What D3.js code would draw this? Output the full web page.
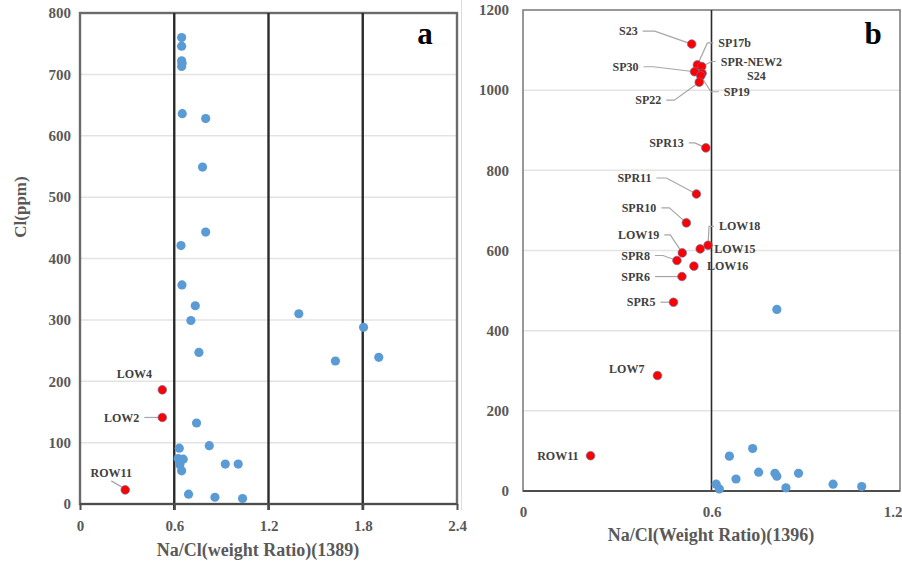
<!DOCTYPE html>
<html>
<head>
<meta charset="utf-8">
<script src="https://cdn.jsdelivr.net/npm/d3@7"></script>
<style>
  body { margin: 0; background: #fff; }
  svg text { font-family: 'Liberation Serif', 'Times New Roman', serif; font-weight: bold; }
</style>
</head>
<body>
<svg id="chart"></svg>
<script>
// panel a (1389) values
let aTicksX = [0, 0.6, 1.2, 1.8, 2.4];
let aTicksY = [0, 100, 200, 300, 400, 500, 600, 700, 800];
let aBlueX = [0.647, 0.647, 0.647, 0.650, 0.647, 0.651, 0.80, 0.78, 0.80, 0.643, 0.649, 0.734, 0.706, 1.393, 1.805,
              0.757, 1.626, 1.902, 0.742, 0.632, 0.823, 0.625, 0.657, 0.636, 0.647, 0.925, 1.007, 0.691, 0.859, 1.035];
let aBlueY = [760, 746, 722, 718, 713, 636, 628, 549, 443, 421, 357, 323, 299, 310, 288,
              247, 233, 239, 132, 91, 95, 74, 73, 64, 54, 65, 65, 16, 11, 9];
let aRedNames = ['LOW4', 'LOW2', 'ROW11'];
let aRedX = [0.524, 0.524, 0.288];
let aRedY = [186, 141, 23];

// panel b (1396)
let bTicksX = [0, 0.6, 1.2];
let bTicksY = [0, 200, 400, 600, 800, 1000, 1200];
let bBlueX = [0.808, 0.657, 0.731, 0.678, 0.750, 0.802, 0.808, 0.877, 0.837, 0.987, 1.078, 0.615, 0.625];
let bBlueY = [453, 87, 106, 30, 47, 44, 37, 44, 8, 17, 11, 17, 5];
let bRedNames = ['S23', 'SP17b', 'SPR-NEW2', 'SP30', 'S24', 'SP19', 'SP22', 'SPR13', 'SPR11', 'SPR10',
                 'LOW18', 'LOW19', 'LOW15', 'SPR8', 'LOW16', 'SPR6', 'SPR5', 'LOW7', 'ROW11'];
let bRedX = [0.537, 0.555, 0.569, 0.546, 0.570, 0.566, 0.561, 0.582, 0.552, 0.520,
             0.589, 0.507, 0.564, 0.490, 0.544, 0.506, 0.479, 0.428, 0.215];
let bRedY = [1115, 1063, 1059, 1046, 1042, 1036, 1020, 856, 741, 669,
             613, 594, 604, 575, 561, 535, 471, 288, 88];

// label placement (pixel offsets from the point), kept apart from the data
let aLabelPos = {
  'LOW4': [-28, -16, 'middle', 0],
  'LOW2': [-23, 0, 'end', 6],
  'ROW11': [-14, -17, 'middle', 1]
};
let bLabelPos = {
  'S23': [-54, -13, 'end', 12],
  'SP17b': [21, -22, 'start', 6],
  'SPR-NEW2': [19, -5, 'start', 4],
  'SP30': [-56, -5, 'end', 10],
  'S24': [45, 2, 'start', 0],
  'SP19': [23, 16, 'start', 8],
  'SP22': [-38, 18, 'end', 8],
  'SPR13': [-22, -5, 'end', 6],
  'SPR11': [-45, -16, 'end', 10],
  'SPR10': [-30, -15, 'end', 8],
  'LOW18': [11, -19, 'start', 5],
  'LOW19': [-23, -18, 'end', 6],
  'LOW15': [14, 0, 'start', 0],
  'SPR8': [-27, -5, 'end', 8],
  'LOW16': [13, 0, 'start', 0],
  'SPR6': [-32, 0, 'end', 8],
  'SPR5': [-18, 0, 'end', 6],
  'LOW7': [-13, -7, 'end', 0],
  'ROW11': [-12, 0, 'end', 0]
};

let widthSVG = 902;
let heightSVG = 563;

let SVG = d3.select('svg#chart')
            .attr('width', widthSVG)
            .attr('height', heightSVG);

let blueCol = '#5b9bd5';
let redCol = '#ff0000';
let tickCol = '#595959';
let serif = "'Liberation Serif', 'Times New Roman', serif";

// faint edge of the second picture
SVG.append('line')
   .attr('x1', 461.5).attr('x2', 461.5)
   .attr('y1', 0).attr('y2', 510)
   .style('stroke', '#dcdcdc')
   .style('stroke-width', 1);

function drawPanel(p) {
  let x = d3.scaleLinear().domain(p.xDomain).range(p.xRange);
  let y = d3.scaleLinear().domain(p.yDomain).range(p.yRange);
  let g = SVG.append('g').classed('panel', true);

  // horizontal grid lines (light)
  g.selectAll('line.hgrid')
   .data(p.ticksY.slice(1, -1))
   .enter()
   .append('line')
   .classed('hgrid', true)
   .attr('x1', p.xRange[0]).attr('x2', p.xRange[1])
   .attr('y1', d => y(d)).attr('y2', d => y(d))
   .style('stroke', '#e3e3e3')
   .style('stroke-width', 1.5);

  // plot border
  g.append('rect')
   .attr('x', p.xRange[0])
   .attr('y', p.yRange[1])
   .attr('width', p.xRange[1] - p.xRange[0])
   .attr('height', p.yRange[0] - p.yRange[1])
   .style('fill', 'none')
   .style('stroke', p.borderCol)
   .style('stroke-width', p.borderW);

  // dark vertical grid lines
  g.selectAll('line.vgrid')
   .data(p.ticksX.slice(1, -1))
   .enter()
   .append('line')
   .classed('vgrid', true)
   .attr('x1', d => x(d)).attr('x2', d => x(d))
   .attr('y1', p.yRange[1]).attr('y2', p.yRange[0] + p.tickLen)
   .style('stroke', '#2b2b2b')
   .style('stroke-width', p.vgridW);

  // x axis line
  g.append('line')
   .attr('x1', p.xRange[0]).attr('x2', p.xRange[1])
   .attr('y1', p.yRange[0]).attr('y2', p.yRange[0])
   .style('stroke', '#4d4d4d')
   .style('stroke-width', 2);

  // axes for the tick labels
  let axisX = g.append('g')
               .attr('transform', `translate(0, ${p.yRange[0]})`)
               .call(d3.axisBottom(x).tickValues(p.ticksX).tickSize(p.tickLen).tickPadding(p.xPad)
                       .tickFormat(d => d));
  let axisY = g.append('g')
               .attr('transform', `translate(${p.xRange[0]}, 0)`)
               .call(d3.axisLeft(y).tickValues(p.ticksY).tickSize(0).tickPadding(p.yPad)
                       .tickFormat(d => d));
  [axisX, axisY].forEach(a => {
    a.attr('font-family', null);
    a.select('.domain').remove();
    a.selectAll('line').style('stroke', '#4d4d4d').style('stroke-width', 2);
    a.selectAll('text')
     .style('font-family', serif)
     .style('font-weight', 'bold')
     .style('font-size', '15px')
     .style('fill', tickCol);
  });
  // last x label sits on the right edge
  if (p.lastEnd) {
    axisX.selectAll('.tick:last-of-type text')
         .style('text-anchor', 'end')
         .attr('x', 2);
  }

  // leader lines for the red labels
  let leaders = p.redNames.map((n, i) => {
    let pos = p.labelPos[n];
    let px = x(p.redX[i]), py = y(p.redY[i]);
    let tx = px + pos[0], ty = py + pos[1];
    if (!pos[3]) return null;
    if (pos[2] == 'middle') return [[tx, ty + 8], [px - 2, py - 2]];
    let sign = pos[2] == 'end' ? 1 : -1;
    let s = [tx + sign * 5, ty];
    let e = [s[0] + sign * pos[3], ty];
    return [s, e, [px, py]];
  }).filter(d => d);

  g.selectAll('path.leader')
   .data(leaders)
   .enter()
   .append('path')
   .classed('leader', true)
   .attr('d', d => d3.line()(d))
   .style('fill', 'none')
   .style('stroke', '#a6a6a6')
   .style('stroke-width', 1.2);

  // blue points
  g.selectAll('circle.blue')
   .data(p.blueX)
   .enter()
   .append('circle')
   .classed('blue', true)
   .attr('cx', d => x(d))
   .attr('cy', (d, i) => y(p.blueY[i]))
   .attr('r', 4.6)
   .style('fill', blueCol);

  // red points
  g.selectAll('circle.red')
   .data(p.redX)
   .enter()
   .append('circle')
   .classed('red', true)
   .attr('cx', d => x(d))
   .attr('cy', (d, i) => y(p.redY[i]))
   .attr('r', 4.3)
   .style('fill', redCol)
   .style('stroke', '#6a6aa0')
   .style('stroke-width', 0.7);

  // red point labels
  g.selectAll('text.redLab')
   .data(p.redNames)
   .enter()
   .append('text')
   .classed('redLab', true)
   .text(d => d)
   .attr('x', (d, i) => x(p.redX[i]) + p.labelPos[d][0])
   .attr('y', (d, i) => y(p.redY[i]) + p.labelPos[d][1])
   .attr('dy', '0.35em')
   .style('text-anchor', d => p.labelPos[d][2])
   .style('font-size', '12px')
   .style('fill', '#404040');

  // panel letter
  g.append('text')
   .text(p.letter)
   .attr('x', p.letterPos[0])
   .attr('y', p.letterPos[1])
   .style('text-anchor', 'middle')
   .style('font-size', '31px')
   .style('fill', '#000');

  // x title
  g.append('text')
   .text(p.xTitle)
   .attr('x', p.xTitlePos[0])
   .attr('y', p.xTitlePos[1])
   .attr('dy', '0.35em')
   .style('text-anchor', 'middle')
   .style('font-size', '18px')
   .style('fill', tickCol);
}

drawPanel({
  xDomain: [0, 2.4], xRange: [80, 457],
  yDomain: [0, 800], yRange: [504, 13],
  ticksX: aTicksX, ticksY: aTicksY,
  blueX: aBlueX, blueY: aBlueY,
  redNames: aRedNames, redX: aRedX, redY: aRedY, labelPos: aLabelPos,
  borderW: 2.4, borderCol: '#6b6b6b', vgridW: 2.4, tickLen: 6, xPad: 10, yPad: 9, lastEnd: false,
  letter: 'a', letterPos: [425, 44],
  xTitle: 'Na/Cl(weight Ratio)(1389)', xTitlePos: [258, 550]
});

drawPanel({
  xDomain: [0, 1.2], xRange: [523, 900],
  yDomain: [0, 1200], yRange: [491, 10],
  ticksX: bTicksX, ticksY: bTicksY,
  blueX: bBlueX, blueY: bBlueY,
  redNames: bRedNames, redX: bRedX, redY: bRedY, labelPos: bLabelPos,
  borderW: 1.6, borderCol: '#7f7f7f', vgridW: 1.6, tickLen: 0, xPad: 15, yPad: 14, lastEnd: true,
  letter: 'b', letterPos: [873, 44],
  xTitle: 'Na/Cl(Weight Ratio)(1396)', xTitlePos: [711, 535]
});

// y title
SVG.append('text')
   .text('Cl(ppm)')
   .attr('transform', 'translate(20, 207) rotate(-90)')
   .attr('dy', '0.35em')
   .style('text-anchor', 'middle')
   .style('font-size', '17px')
   .style('fill', tickCol);
</script>
</body>
</html>
